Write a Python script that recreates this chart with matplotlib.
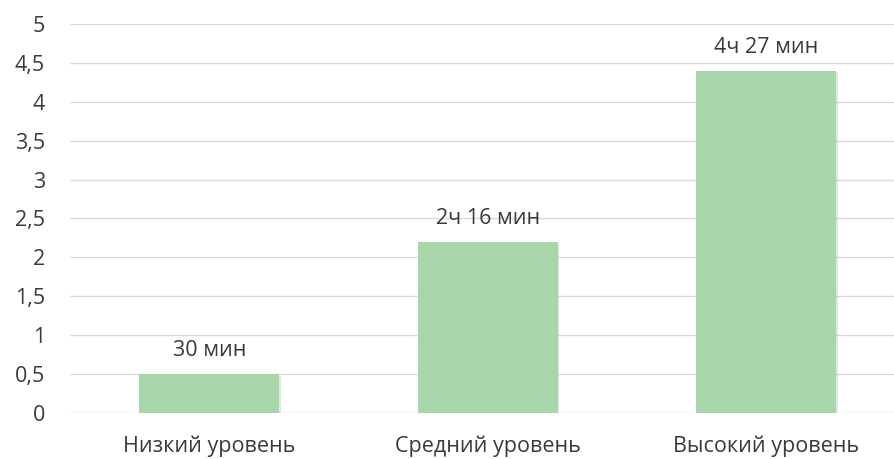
import matplotlib
matplotlib.use("Agg")
import matplotlib.pyplot as plt
import matplotlib.patheffects as pe

plt.rcParams['font.family'] = ['Open Sans', 'DejaVu Sans']

categories = ['Низкий уровень', 'Средний уровень', 'Высокий уровень']
values = [0.5, 2.2, 4.4]
labels = ['30 мин', '2ч 16 мин', '4ч 27 мин']
yticks = [0, 0.5, 1, 1.5, 2, 2.5, 3, 3.5, 4, 4.5, 5]

text_color = '#3a3a3a'
bar_color = '#A8D6AB'
grid_color = '#D9D9D9'
fs = 15.5

fig = plt.figure(figsize=(8.94, 4.59), dpi=100)
ax = fig.add_axes([70 / 894, 46 / 459, 824 / 894, 389 / 459])

x = range(len(categories))
bars = ax.bar(x, values, width=0.503, color=bar_color, zorder=3)
for b in bars:
    b.set_path_effects([pe.SimplePatchShadow(offset=(1.2, -1.2), alpha=0.12),
                        pe.Normal()])

# value labels above bars
for xi, v, lab in zip(x, values, labels):
    ax.annotate(lab, (xi, v), xytext=(0, 17), textcoords='offset points',
                ha='center', va='center', fontsize=fs, color=text_color)

ax.set_xlim(-0.5, -0.5 + 824 / 278.5)
ax.set_ylim(0, 5)
ax.set_yticks(yticks)
ax.set_yticklabels([('%g' % t).replace('.', ',') for t in yticks])
ax.set_xticks(list(x))
ax.set_xticklabels(categories)

ax.grid(axis='y', color=grid_color, linewidth=1, zorder=0)
for s in ax.spines.values():
    s.set_visible(False)
ax.tick_params(axis='both', length=0, labelsize=fs, colors=text_color)
ax.tick_params(axis='y', pad=18)
ax.tick_params(axis='x', pad=16)

fig.savefig('out.png', dpi=100)
